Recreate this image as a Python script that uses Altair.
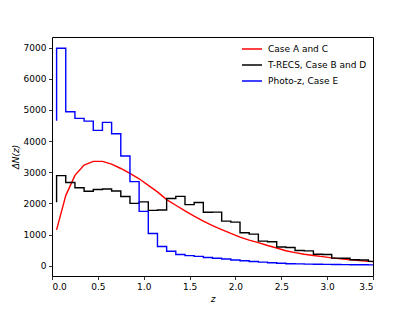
import altair as alt
import pandas as pd

# ---- data ----
z_bins = [0.05, 0.15, 0.25, 0.35, 0.45, 0.55, 0.65, 0.75, 0.85, 0.95,
          1.05, 1.15, 1.25, 1.35, 1.45, 1.55, 1.65, 1.75, 1.85, 1.95,
          2.05, 2.15, 2.25, 2.35, 2.45, 2.55, 2.65, 2.75, 2.85, 2.95,
          3.05, 3.15, 3.25, 3.35, 3.45, 3.55]

case_ac = [1150, 2250, 2900, 3230, 3350, 3350, 3260, 3120, 2960, 2790,
           2580, 2370, 2120, 1940, 1760, 1590, 1430, 1285, 1160, 1035,
           920, 820, 740, 650, 570, 480, 420, 370, 330, 290,
           250, 220, 190, 165, 140, 120]

trecs_bd = [2040, 2890, 2670, 2500, 2390, 2445, 2460, 2400, 2220, 2000,
            2050, 1775, 1790, 2155, 2225, 1960, 2030, 1715, 1720, 1430,
            1400, 1060, 1015, 790, 770, 600, 585, 490, 475, 370,
            360, 245, 240, 190, 185, 140]

photoz_e = [4650, 6980, 4940, 4730, 4640, 4345, 4600, 4235, 3520, 2700,
            1745, 1035, 615, 465, 360, 325, 300, 265, 240, 215,
            185, 160, 135, 115, 95, 80, 65, 58, 52, 46,
            42, 38, 35, 32, 30, 28]

names = ["Case A and C", "T-RECS, Case B and D", "Photo-z, Case E"]
colors = ["#ff0000", "#000000", "#0000ff"]

x_ticks = [0.0, 0.5, 1.0, 1.5, 2.0, 2.5, 3.0, 3.5]
y_ticks = [0, 1000, 2000, 3000, 4000, 5000, 6000, 7000]

df = pd.DataFrame({
    "z": z_bins * 3,
    "N": case_ac + trecs_bd + photoz_e,
    "series": [names[0]] * len(z_bins) + [names[1]] * len(z_bins) + [names[2]] * len(z_bins),
})

FONT = "DejaVu Sans"

x_enc = alt.X("z:Q",
              scale=alt.Scale(domain=[0, 3.5], nice=False, zero=False),
              axis=alt.Axis(values=x_ticks, format=".1f", title="z",
                            titleFontStyle="italic", titleFontWeight="normal",
                            titleFont=FONT, titleFontSize=9, titleColor="black",
                            titleX=160.5, titleY=22, titleBaseline="middle"))
y_enc = alt.Y("N:Q",
              scale=alt.Scale(domain=[-330, 7340], nice=False, zero=False),
              axis=alt.Axis(values=y_ticks, format="d", title="ΔN(z)",
                            titleFontStyle="italic", titleFontWeight="normal",
                            titleFont=FONT, titleFontSize=9, titleColor="black",
                            titleX=-37, titleY=119.5, titleAngle=-90,
                            titleBaseline="middle", titleAlign="center"))
color_enc = alt.Color("series:N",
                      scale=alt.Scale(domain=names, range=colors),
                      legend=alt.Legend(orient="none", legendX=184, legendY=-4,
                                        title=None, symbolType="stroke",
                                        symbolSize=400, symbolStrokeWidth=1.5,
                                        labelFont=FONT, labelFontSize=9,
                                        labelColor="black", labelOffset=5,
                                        padding=5, rowPadding=-4,
                                        strokeColor="transparent"))

base = alt.Chart(df)
red = base.transform_filter(alt.datum.series == names[0]).mark_line(
    strokeWidth=1.4, clip=True).encode(x=x_enc, y=y_enc, color=color_enc)
black = base.transform_filter(alt.datum.series == names[1]).mark_line(
    strokeWidth=1.4, clip=True, interpolate="step-before").encode(x=x_enc, y=y_enc, color=color_enc)
blue = base.transform_filter(alt.datum.series == names[2]).mark_line(
    strokeWidth=1.4, clip=True, interpolate="step-before").encode(x=x_enc, y=y_enc, color=color_enc)

chart = alt.layer(red, black, blue).properties(
    width=321, height=239,
    autosize=alt.AutoSizeParams(type="none"),
    padding={"left": 44, "top": 29, "right": 34, "bottom": 27},
    background="white",
).configure_view(
    stroke="black", strokeWidth=1
).configure_axis(
    grid=False, domain=False,
    tickColor="black", tickSize=3.5, tickWidth=0.8,
    labelFont=FONT, labelFontSize=9, labelColor="black", labelPadding=2.5,
)

chart.save("out.html", embed_options={"renderer": "svg", "actions": False})
